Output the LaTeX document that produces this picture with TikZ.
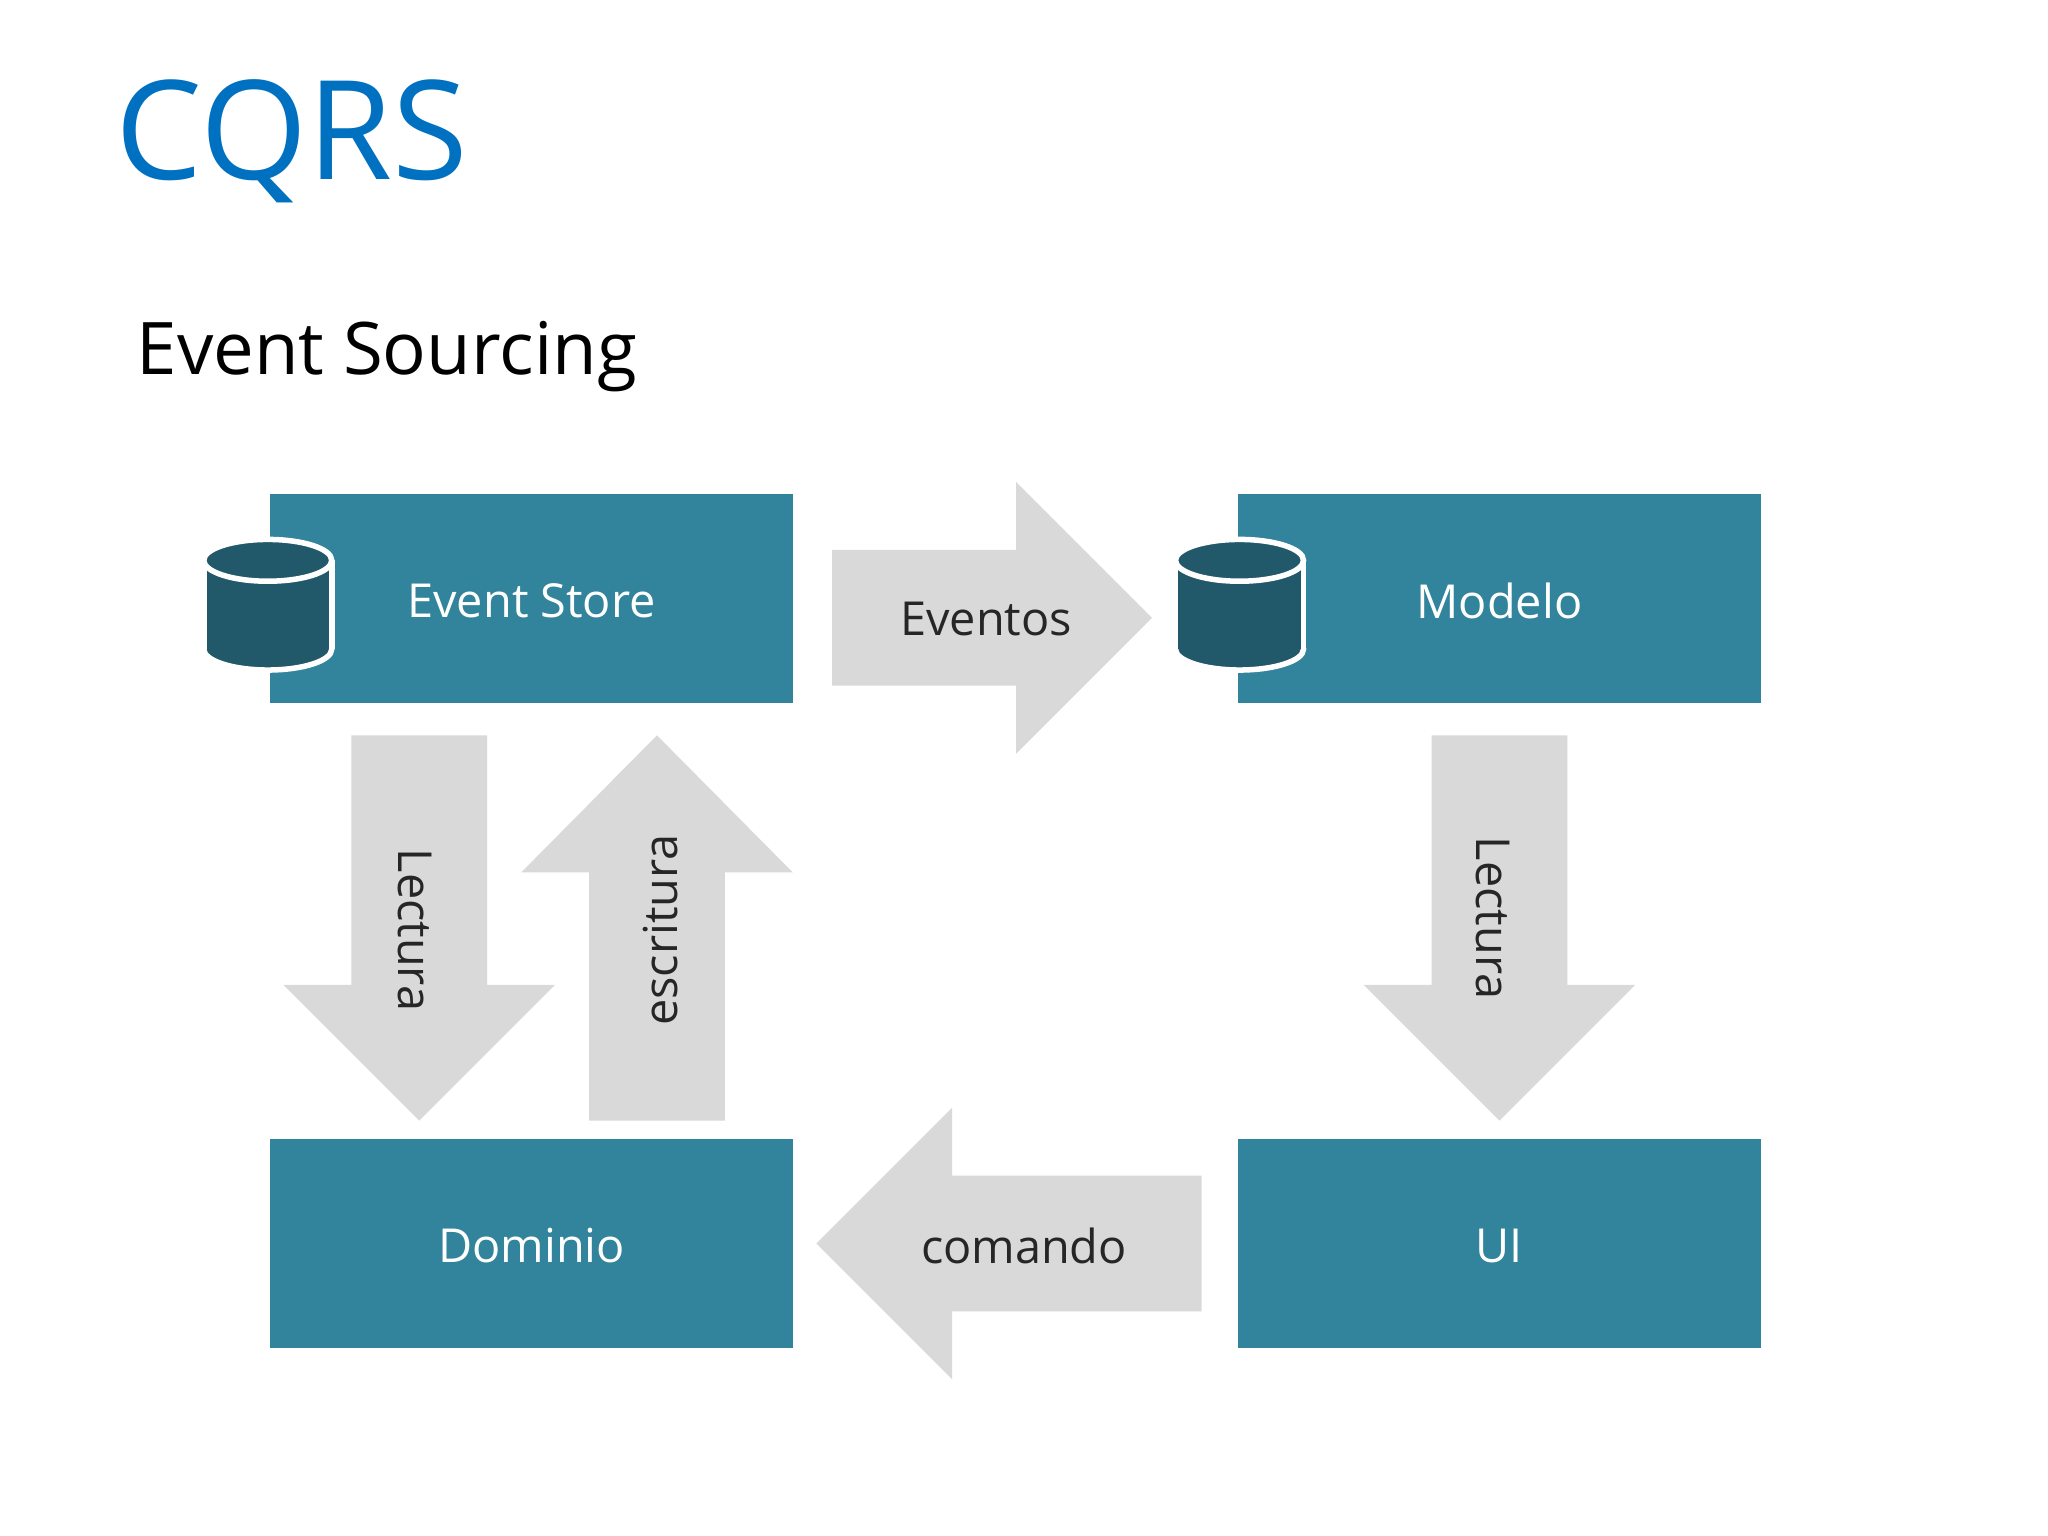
\documentclass[tikz,border=0pt]{standalone}
\usepackage{fontspec}
\setmainfont{Open Sans}
\definecolor{teal1}{RGB}{49,132,155}
\definecolor{darkteal}{RGB}{34,89,106}
\definecolor{arrowgray}{RGB}{217,217,217}
\definecolor{titleblue}{RGB}{0,112,192}
\begin{document}
\begin{tikzpicture}[x=0.01cm,y=-0.01cm,
  box/.style={fill=teal1,draw=none},
  lbl/.style={text=white,font=\fontsize{10.2}{12}\selectfont},
  arr/.style={fill=arrowgray,draw=none},
  alb/.style={text=black!85,font=\fontsize{10.2}{12}\selectfont},
  cyl/.style={fill=darkteal,draw=white,line width=1.2pt}]
\useasboundingbox[fill=white] (0,0) rectangle (1568,1176);
\node[anchor=west,text=titleblue,font=\fontsize{30}{34}\selectfont,inner sep=0] (title) at (88,108) {CQRS};
\node[anchor=west,text=black,font=\fontsize{15.8}{18}\selectfont,inner sep=0] (sub) at (104,273) {Event Sourcing};
% boxes
\fill[box] (207,378) rectangle (607,538);
\fill[box] (948,378) rectangle (1348,538);
\fill[box] (207,872) rectangle (607,1032);
\fill[box] (948,872) rectangle (1348,1032);
\node[lbl] (es) at (407,460) {Event Store};
\node[lbl] (mo) at (1148,460) {Modelo};
\node[lbl] (do) at (407,954) {Dominio};
\node[lbl] (ui) at (1148,954) {UI};
% cylinders
\foreach \cx in {205,949}{
  \draw[cyl] (\cx,497) ellipse[x radius=49,y radius=16];
  \fill[darkteal] (\cx-48,429) rectangle (\cx+48,497);
  \draw[white,line width=1.2pt] (\cx-49,429) -- (\cx-49,497) (\cx+49,429) -- (\cx+49,497);
  \draw[cyl] (\cx,429) ellipse[x radius=49,y radius=16];
}
% arrows
\fill[arr] (637,421) -- (778,421) -- (778,369) -- (882,473) -- (778,577) -- (778,525) -- (637,525) -- cycle;
\fill[arr] (269,563) -- (373,563) -- (373,754) -- (425,754) -- (321,858) -- (217,754) -- (269,754) -- cycle;
\fill[arr] (451,858) -- (555,858) -- (555,668) -- (607,668) -- (503,563) -- (399,668) -- (451,668) -- cycle;
\fill[arr] (1096,563) -- (1200,563) -- (1200,754) -- (1252,754) -- (1148,858) -- (1044,754) -- (1096,754) -- cycle;
\fill[arr] (920,900) -- (729,900) -- (729,848) -- (625,952) -- (729,1056) -- (729,1004) -- (920,1004) -- cycle;
\node[alb] (ev) at (755,474) {Eventos};
\node[alb,rotate=-90] (l1) at (318,712) {Lectura};
\node[alb,rotate=90] (esc) at (506,712) {escritura};
\node[alb,rotate=-90] (l2) at (1143,703) {Lectura};
\node[alb] (co) at (784,954) {comando};
\end{tikzpicture}
\end{document}
